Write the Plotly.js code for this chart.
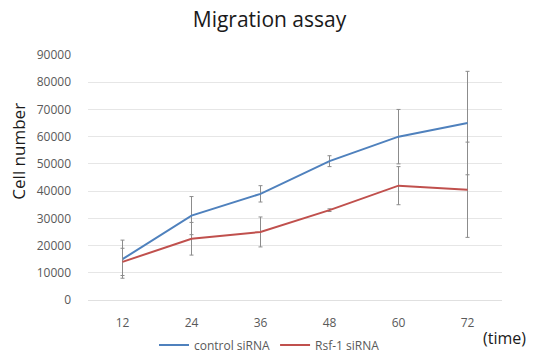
<!DOCTYPE html>
<html>
<head>
<meta charset="utf-8">
<script src="https://cdn.plot.ly/plotly-3.0.1.min.js"></script>
<style>html,body{margin:0;padding:0;background:#fff;}</style>
</head>
<body>
<div id="chart" style="width:539px;height:353px;"></div>
<script>
const timePoints = [12, 24, 36, 48, 60, 72];
const controlValues = [15000, 31000, 39000, 51000, 60000, 65000];
const controlErrors = [7000, 7000, 3000, 2000, 10000, 19000];
const rsfValues = [14000, 22500, 25000, 33000, 42000, 40500];
const rsfErrors = [5000, 6000, 5500, 500, 7000, 17500];
const yTicks = [0, 10000, 20000, 30000, 40000, 50000, 60000, 70000, 80000, 90000];
const seriesNames = ["control siRNA", "Rsf-1 siRNA"];

const traces = [
  {
    x: timePoints, y: controlValues, name: seriesNames[0], type: "scatter", mode: "lines",
    line: {color: "#4F81BD", width: 2},
    error_y: {type: "data", array: controlErrors, visible: true, color: "#8c8c8c", thickness: 1, width: 2}
  },
  {
    x: timePoints, y: rsfValues, name: seriesNames[1], type: "scatter", mode: "lines",
    line: {color: "#C0504D", width: 2},
    error_y: {type: "data", array: rsfErrors, visible: true, color: "#8c8c8c", thickness: 1, width: 2}
  }
];

const layout = {
  width: 539, height: 353,
  margin: {l: 88, r: 37, t: 55, b: 53, autoexpand: false},
  paper_bgcolor: "#ffffff", plot_bgcolor: "#ffffff",
  showlegend: true,
  title: {text: "Migration assay", font: {family: "Open Sans", size: 21, color: "#1a1a1a"},
          xref: "container", x: 0.5, xanchor: "center", yref: "container", y: 0.943, yanchor: "middle"},
  xaxis: {range: [6, 78], tickvals: timePoints, ticktext: timePoints.map(String),
          showgrid: false, zeroline: false, showline: false, ticks: "", automargin: false,
          tickfont: {family: "Open Sans", size: 12, color: "#595959"}, ticklabelstandoff: 14},
  yaxis: {range: [0, 90000], tickvals: yTicks, ticktext: yTicks.map(String), automargin: false,
          showgrid: true, gridcolor: "#e6e6e6", gridwidth: 1, zeroline: true, zerolinecolor: "#e0e0e0",
          showline: false, ticks: "", tickfont: {family: "Open Sans", size: 12, color: "#595959"}, ticklabelstandoff: 16},
  legend: {orientation: "h", xref: "container", x: 0.5, xanchor: "center", yref: "container", y: 0.023, yanchor: "middle",
           font: {family: "Open Sans", size: 12, color: "#595959"}, itemwidth: 30, tracegroupgap: 0},
  annotations: [
    {text: "Cell number", xref: "paper", yref: "paper", x: -0.17, y: 0.608, textangle: -90,
     showarrow: false, font: {family: "Open Sans", size: 17, color: "#1a1a1a"}, xanchor: "center", yanchor: "middle"},
    {text: "(time)", xref: "paper", yref: "paper", x: 1.005, y: -0.155, showarrow: false,
     font: {family: "Open Sans", size: 16, color: "#1a1a1a"}, xanchor: "center", yanchor: "middle"}
  ]
};

Plotly.newPlot("chart", traces, layout, {displayModeBar: false, staticPlot: true});
</script>
</body>
</html>
